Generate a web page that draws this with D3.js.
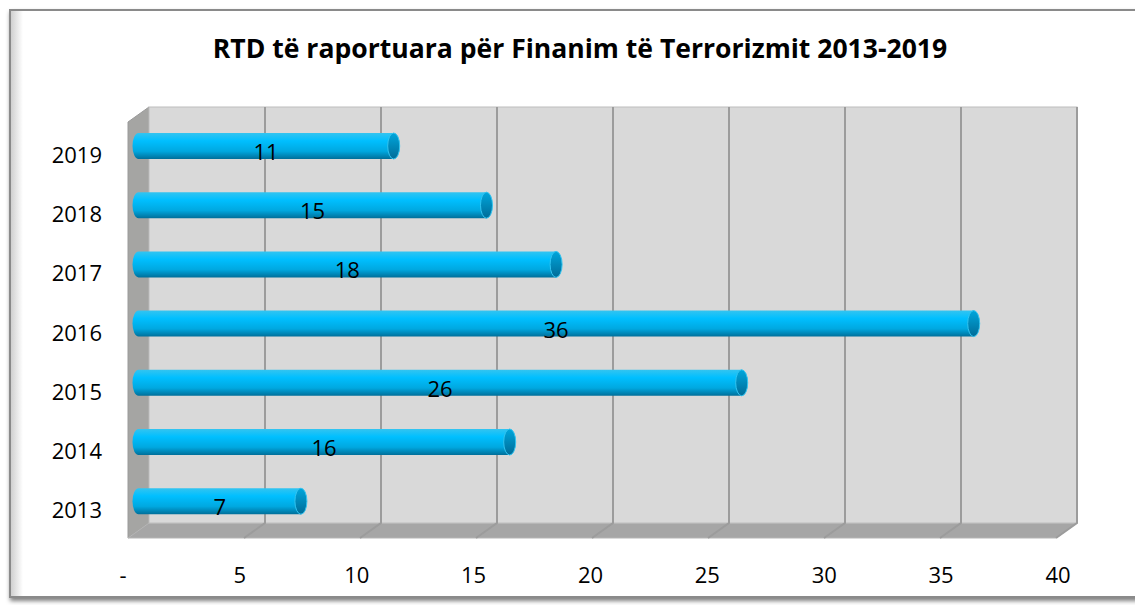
<!DOCTYPE html>
<html>
<head>
<meta charset="utf-8">
<script src="https://cdn.jsdelivr.net/npm/d3@7"></script>
<style>
  body { margin: 0; background: #fff; }
  text { font-family: "Open Sans", Lato, sans-serif; fill: #000; }
</style>
</head>
<body>
<svg id="chart" width="1135" height="605"></svg>
<script>
// RTD per Financim te Terrorizmit -- 3d-ish horizontal cylinder bars

var title = "RTD të raportuara për Finanim të Terrorizmit 2013-2019";
var years = ["2019", "2018", "2017", "2016", "2015", "2014", "2013"];
var counts = [11, 15, 18, 36, 26, 16, 7];
var ticks = [0, 5, 10, 15, 20, 25, 30, 35, 40];
var tickLabels = ["-", "5", "10", "15", "20", "25", "30", "35", "40"];

var svg = d3.select("#chart");
var defs = svg.append("defs");

// depth offset of the 3d box (back wall -> front edge)
var dx = -21, dy = 15;

var x = d3.scaleLinear().domain([0, 40]).range([149, 1077]);
var y = d3.scaleBand().domain(years).range([116.4, 530.8]);
var wallTop = 107, wallBottom = 523;

// outer frame with soft shadow
var shadow = defs.append("filter").attr("id", "shadow")
  .attr("x", "-5%").attr("y", "-5%").attr("width", "110%").attr("height", "110%");
shadow.append("feDropShadow").attr("dx", 1).attr("dy", 3)
  .attr("stdDeviation", 2).attr("flood-color", "#000").attr("flood-opacity", 0.5);

svg.append("rect")
  .attr("x", 10).attr("y", 10).attr("width", 1135).attr("height", 587)
  .attr("fill", "#fff").attr("stroke", "#8a8a8a").attr("stroke-width", 2)
  .attr("filter", "url(#shadow)");

var inner = defs.append("linearGradient").attr("id", "innerLeft");
inner.append("stop").attr("offset", "0").attr("stop-color", "#d0d0d0");
inner.append("stop").attr("offset", "1").attr("stop-color", "#fff");
svg.append("rect").attr("x", 11).attr("y", 11).attr("width", 12).attr("height", 585)
  .attr("fill", "url(#innerLeft)");

var titleText = svg.append("text")
  .attr("x", 580).attr("y", 58)
  .attr("text-anchor", "middle")
  .attr("font-size", 24).attr("font-weight", "bold")
  .text(title);
// squeeze/stretch title to the width it has in the original
var tw = titleText.node().getComputedTextLength();
titleText.attr("font-size", Math.min(27, 24 * 735 / tw));

// side wall
svg.append("path")
  .attr("d", "M" + x(0) + "," + wallTop + "L" + (x(0) + dx) + "," + (wallTop + dy) +
    "L" + (x(0) + dx) + "," + (wallBottom + dy) + "L" + x(0) + "," + wallBottom + "Z")
  .attr("fill", "#a5a5a3").attr("stroke", "#9a9a9a");

// floor
svg.append("path")
  .attr("d", "M" + x(0) + "," + wallBottom + "L" + x(40) + "," + wallBottom +
    "L" + (x(40) + dx) + "," + (wallBottom + dy) + "L" + (x(0) + dx) + "," + (wallBottom + dy) + "Z")
  .attr("fill", "#a6a6a6").attr("stroke", "#b5b5b5");

// back wall
svg.append("rect")
  .attr("x", x(0)).attr("y", wallTop)
  .attr("width", x(40) - x(0)).attr("height", wallBottom - wallTop)
  .attr("fill", "#d9d9d9").attr("stroke", "#bdbdbd");

// gridlines on wall + floor
svg.selectAll(".grid").data(ticks.slice(1)).enter().append("path")
  .attr("class", "grid")
  .attr("d", function (d) {
    return "M" + x(d) + "," + wallTop + "L" + x(d) + "," + wallBottom +
      "L" + (x(d) + dx) + "," + (wallBottom + dy);
  })
  .attr("fill", "none").attr("stroke", "#9c9c9c").attr("stroke-width", 2);

// bars: cylinders sitting half way in the depth
var barGrad = defs.append("linearGradient").attr("id", "barGrad")
  .attr("x1", 0).attr("y1", 0).attr("x2", 0).attr("y2", 1);
barGrad.append("stop").attr("offset", "0").attr("stop-color", "#33c4f0");
barGrad.append("stop").attr("offset", "0.3").attr("stop-color", "#00bfff");
barGrad.append("stop").attr("offset", "0.7").attr("stop-color", "#00a8e0");
barGrad.append("stop").attr("offset", "1").attr("stop-color", "#006f9a");

var capGrad = defs.append("linearGradient").attr("id", "capGrad")
  .attr("x1", 0).attr("y1", 0).attr("x2", 0).attr("y2", 1);
capGrad.append("stop").attr("offset", "0").attr("stop-color", "#00a6dc");
capGrad.append("stop").attr("offset", "1").attr("stop-color", "#006c98");

var bx = function (v) { return x(v) + dx / 2; };
var barH = 26, rx = 6;

var bars = svg.selectAll(".bar").data(counts).enter().append("g").attr("class", "bar");

bars.append("path")
  .attr("d", function (d, i) {
    var cy = y(years[i]) + y.bandwidth() / 2;
    var x0 = bx(0), x1 = bx(d), t = cy - barH / 2, b = cy + barH / 2;
    return "M" + x1 + "," + t + "L" + x0 + "," + t +
      "A" + rx + "," + (barH / 2) + " 0 0 0 " + x0 + "," + b +
      "L" + x1 + "," + b + "Z";
  })
  .attr("fill", "url(#barGrad)");

bars.append("ellipse")
  .attr("cx", function (d) { return bx(d); })
  .attr("cy", function (d, i) { return y(years[i]) + y.bandwidth() / 2; })
  .attr("rx", rx).attr("ry", barH / 2)
  .attr("fill", "url(#capGrad)").attr("stroke", "#33c4f0").attr("stroke-width", 1);

bars.append("text")
  .attr("x", function (d) { return (bx(0) + bx(d)) / 2; })
  .attr("y", function (d, i) { return y(years[i]) + y.bandwidth() / 2 + 14; })
  .attr("text-anchor", "middle")
  .attr("font-size", 22)
  .text(function (d) { return d; });

// category axis
svg.selectAll(".ylab").data(years).enter().append("text")
  .attr("class", "ylab")
  .attr("x", 102)
  .attr("y", function (d) { return y(d) + y.bandwidth() / 2 + 17; })
  .attr("text-anchor", "end")
  .attr("font-size", 22)
  .text(function (d) { return d; });

// value axis along the front edge
var xf = d3.scaleLinear().domain([0, 40]).range([123, 1058]);
svg.selectAll(".xlab").data(ticks).enter().append("text")
  .attr("class", "xlab")
  .attr("x", function (d) { return xf(d); })
  .attr("y", 583)
  .attr("text-anchor", "middle")
  .attr("font-size", 22)
  .text(function (d, i) { return tickLabels[i]; });
</script>
</body>
</html>
